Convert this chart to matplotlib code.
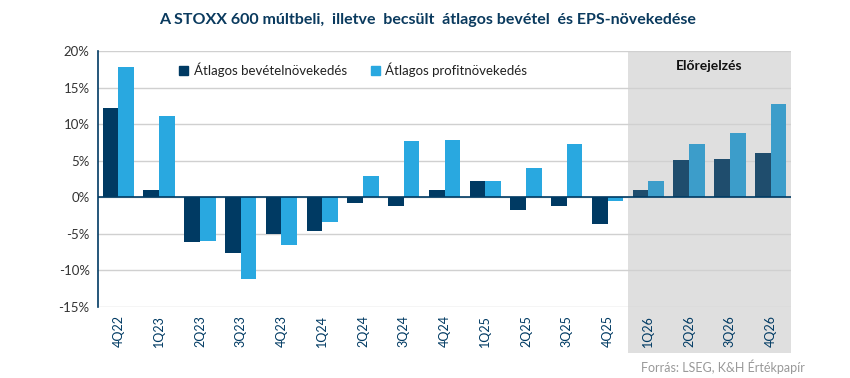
import matplotlib
matplotlib.use("Agg")
import matplotlib.pyplot as plt
import matplotlib.transforms as mtransforms
from matplotlib.patches import Rectangle, Patch
import numpy as np

plt.rcParams['font.family'] = ['Lato', 'DejaVu Sans']

quarters = ["4Q22", "1Q23", "2Q23", "3Q23", "4Q23", "1Q24", "2Q24", "3Q24", "4Q24",
            "1Q25", "2Q25", "3Q25", "4Q25", "1Q26", "2Q26", "3Q26", "4Q26"]
revenue = [12.2, 1.0, -6.1, -7.6, -5.0, -4.6, -0.8, -1.2, 1.0,
           2.2, -1.7, -1.2, -3.7, 1.0, 5.1, 5.2, 6.0]
profit = [17.8, 11.1, -6.0, -11.2, -6.5, -3.4, 2.9, 7.7, 7.9,
          2.2, 4.0, 7.3, -0.5, 2.2, 7.3, 8.8, 12.8]
n_forecast = 4
yticks = [-15, -10, -5, 0, 5, 10, 15, 20]

title = "A STOXX 600 múltbeli,  illetve  becsült  átlagos bevétel  és EPS-növekedése"
label_rev = "Átlagos bevételnövekedés"
label_prof = "Átlagos profitnövekedés"
forecast_label = "Előrejelzés"
source = "Forrás: LSEG, K&H Értékpapír"

navy = "#003a63"
light = "#29a8e0"
navy_f = "#1f4d6d"
light_f = "#3c9dca"
shade = "#dfdfdf"

fig = plt.figure(figsize=(8.5, 3.78), dpi=100)
ax = fig.add_axes([0.1153, 0.1878, 0.8153, 0.6772])

x = np.arange(len(quarters))
w = 0.385
nf0 = len(quarters) - n_forecast
c_rev = [navy] * nf0 + [navy_f] * n_forecast
c_prof = [light] * nf0 + [light_f] * n_forecast
ax.bar(x - w / 2, revenue, width=w, color=c_rev, zorder=3)
ax.bar(x + w / 2, profit, width=w, color=c_prof, zorder=3)

ax.set_xlim(-0.5, len(quarters) - 0.5)
ax.set_ylim(-15, 20)
ax.set_yticks(yticks)
ax.set_yticklabels([f"{v}%" for v in yticks], fontsize=9.5, color="#333333")
ax.yaxis.grid(True, color="#d0d0d0", linewidth=1, zorder=0)
ax.set_axisbelow(True)
ax.axhline(0, color=navy, linewidth=1.2, zorder=4)

ax.set_xticks(x)
ax.set_xticklabels(quarters, rotation=90, fontsize=9, color=navy)
ax.tick_params(axis='x', length=0, pad=6)
ax.tick_params(axis='y', length=0, pad=6)

for s in ["top", "right", "bottom"]:
    ax.spines[s].set_visible(False)
ax.spines["left"].set_color(navy)
ax.spines["left"].set_linewidth(1.2)

# forecast shading
trans = mtransforms.blended_transform_factory(ax.transData, ax.transAxes)
x0 = nf0 - 0.5
rect = Rectangle((x0, -0.18), len(quarters) - 0.5 - x0, 1.18, transform=trans,
                 facecolor=shade, edgecolor="none", zorder=0.5, clip_on=False)
ax.add_patch(rect)
ax.text((x0 + len(quarters) - 0.5) / 2, 0.94, forecast_label, transform=trans,
        ha="center", va="center", fontsize=10, fontweight="bold", color="#111111", zorder=5)

handles = [Patch(color=navy, label=label_rev), Patch(color=light, label=label_prof)]
ax.legend(handles=handles, loc="upper left", bbox_to_anchor=(0.1, 1.0), ncol=2,
          frameon=False, fontsize=9.5, handlelength=0.7, handleheight=0.7,
          handletextpad=0.4, columnspacing=1.8, labelcolor="#222222")

fig.text(0.503, 0.947, title, ha="center", va="center", fontsize=11.5,
         fontweight="bold", color="#0a3a5e")
fig.text(0.947, 0.03, source, ha="right", va="center", fontsize=9, color="#999999")

fig.savefig("out.png", dpi=100)
